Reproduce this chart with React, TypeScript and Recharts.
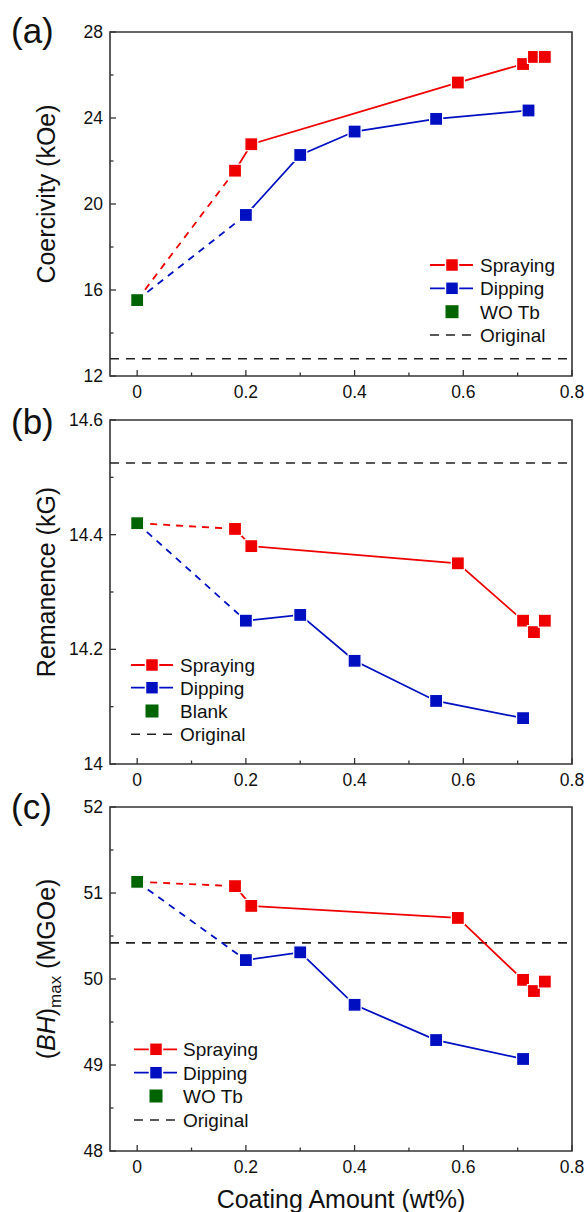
import React from 'react';
import { ComposedChart, Line, XAxis, YAxis, ReferenceLine, ReferenceArea } from 'recharts';

const FONT = '"Liberation Sans", Arial, Helvetica, sans-serif';
const RED = '#ee0000';
const BLUE = '#0010c0';
const GREEN = '#006400';
const AXIS = '#333333';
const TEXT = '#111111';

// x axis
const xDomain: [number, number] = [-0.05, 0.8];
const xMajorTicks = [0, 0.2, 0.4, 0.6, 0.8];
const xMinorTicks = [0.1, 0.3, 0.5, 0.7];
const xTickLabels = ['0', '0.2', '0.4', '0.6', '0.8'];

// shared x positions
const sprayX = [0.18, 0.21, 0.59, 0.71, 0.73, 0.75];
const dipXA = [0.2, 0.3, 0.4, 0.55, 0.72];
const dipX = [0.2, 0.3, 0.4, 0.55, 0.71];
const blankX = 0;

// (a) coercivity
const coercSpray = [21.55, 22.78, 25.65, 26.51, 26.84, 26.84];
const coercDip = [19.49, 22.28, 23.37, 23.96, 24.35];
const coercBlank = 15.53;
const coercOriginal = 12.8;
const coercMajor = [12, 16, 20, 24, 28];
const coercMinor = [14, 18, 22, 26];
const coercLabels = ['12', '16', '20', '24', '28'];

// (b) remanence
const remSpray = [14.41, 14.38, 14.35, 14.25, 14.23, 14.25];
const remDip = [14.25, 14.26, 14.18, 14.11, 14.08];
const remBlank = 14.42;
const remOriginal = 14.525;
const remMajor = [14, 14.2, 14.4, 14.6];
const remMinor = [14.1, 14.3, 14.5];
const remLabels = ['14', '14.2', '14.4', '14.6'];

// (c) (BH)max
const bhSpray = [51.08, 50.85, 50.71, 49.99, 49.86, 49.97];
const bhDip = [50.22, 50.31, 49.7, 49.29, 49.07];
const bhBlank = 51.13;
const bhOriginal = 50.42;
const bhMajor = [48, 49, 50, 51, 52];
const bhMinor = [48.5, 49.5, 50.5, 51.5];
const bhLabels = ['48', '49', '50', '51', '52'];

const legendNames = ['Spraying', 'Dipping'];

const SQ = 13;
const LW = 1.8;

const near = (a: number, b: number) => Math.abs(a - b) < 1e-6;

const makeXTick = (majors: number[], labels: string[]) => (props: any) => {
  const { x, y, payload } = props;
  const idx = majors.findIndex((m) => near(m, payload.value));
  const major = idx >= 0;
  return (
    <g>
      <line x1={x} x2={x} y1={y} y2={y - (major ? 6 : 3.5)} stroke={AXIS} strokeWidth={1.3} />
      {major && (
        <text x={x} y={y + 22} textAnchor="middle" fontSize={17.5} fontFamily={FONT} fill={TEXT}>
          {labels[idx]}
        </text>
      )}
    </g>
  );
};

const makeYTick = (majors: number[], labels: string[]) => (props: any) => {
  const { x, y, payload } = props;
  const idx = majors.findIndex((m) => near(m, payload.value));
  const major = idx >= 0;
  return (
    <g>
      <line x1={x} x2={x + (major ? 6 : 3.5)} y1={y} y2={y} stroke={AXIS} strokeWidth={1.3} />
      {major && (
        <text x={x - 7} y={y + 6} textAnchor="end" fontSize={17.5} fontFamily={FONT} fill={TEXT}>
          {labels[idx]}
        </text>
      )}
    </g>
  );
};

const square = (color: string) => (props: any) => {
  const { cx, cy, index } = props;
  if (cx == null || cy == null) return <g key={`e-${index}`} />;
  return (
    <rect
      key={`sq-${index}`}
      x={cx - SQ / 2}
      y={cy - SQ / 2}
      width={SQ}
      height={SQ}
      fill={color}
      stroke="#ffffff"
      strokeWidth={1.2}
    />
  );
};

type PanelProps = {
  top: number;
  height: number;
  xAxisHeight: number;
  yDomain: [number, number];
  yMajor: number[];
  yMinor: number[];
  yLabels: string[];
  sX: number[];
  sY: number[];
  dX: number[];
  dY: number[];
  blank: number;
  original: number;
  letter: string;
  letterY: number;
  title: React.ReactNode;
  blankName: string;
  legend: { lineX1: number; lineX2: number; sqX: number; textX: number; rows: number[] };
  xTitle?: boolean;
};

function Panel(p: PanelProps) {
  const sprayData = p.sX.map((x, i) => ({ x, y: p.sY[i] }));
  const dipData = p.dX.map((x, i) => ({ x, y: p.dY[i] }));
  const blankData = [{ x: blankX, y: p.blank }];
  const sprayDash = [{ x: blankX, y: p.blank }, sprayData[0]];
  const dipDash = [{ x: blankX, y: p.blank }, dipData[0]];
  const xTicks = [...xMajorTicks, ...xMinorTicks].sort((a, b) => a - b);
  const yTicks = [...p.yMajor, ...p.yMinor].sort((a, b) => a - b);
  const L = p.legend;
  const colors = [RED, BLUE];
  return (
    <div style={{ position: 'absolute', left: 0, top: p.top, width: 587, height: p.height }}>
      <ComposedChart width={587} height={p.height} margin={{ top: 32, right: 15, bottom: 0, left: 0 }}>
        <XAxis
          type="number"
          dataKey="x"
          domain={xDomain}
          ticks={xTicks}
          interval={0}
          tick={makeXTick(xMajorTicks, xTickLabels)}
          tickLine={false}
          axisLine={false}
          tickSize={0}
          tickMargin={0}
          height={p.xAxisHeight}
          allowDataOverflow
        />
        <YAxis
          type="number"
          domain={p.yDomain}
          ticks={yTicks}
          interval={0}
          tick={makeYTick(p.yMajor, p.yLabels)}
          tickLine={false}
          axisLine={false}
          tickSize={0}
          tickMargin={0}
          width={110}
          allowDataOverflow
        />
        <ReferenceLine y={p.original} stroke="#222222" strokeDasharray="9 7" strokeWidth={1.6} />
        <Line data={sprayDash} dataKey="y" stroke={RED} strokeWidth={LW} strokeDasharray="7 6" dot={false} isAnimationActive={false} />
        <Line data={dipDash} dataKey="y" stroke={BLUE} strokeWidth={LW} strokeDasharray="7 6" dot={false} isAnimationActive={false} />
        <Line data={sprayData} dataKey="y" stroke={RED} strokeWidth={LW} dot={square(RED)} isAnimationActive={false} />
        <Line data={dipData} dataKey="y" stroke={BLUE} strokeWidth={LW} dot={square(BLUE)} isAnimationActive={false} />
        <Line data={blankData} dataKey="y" stroke="none" dot={square(GREEN)} isAnimationActive={false} />
        <ReferenceArea x1={xDomain[0]} x2={xDomain[1]} y1={p.yDomain[0]} y2={p.yDomain[1]} fill="none" stroke={AXIS} strokeWidth={1.6} />
      </ComposedChart>
      <svg
        width={587}
        height={p.height}
        style={{ position: 'absolute', left: 0, top: 0, pointerEvents: 'none', overflow: 'visible' }}
      >
        <text x={11} y={p.letterY} fontSize={35} fontFamily={FONT} fill={TEXT}>
          {p.letter}
        </text>
        <text
          x={55}
          y={194}
          transform={`rotate(-90, 55, 194)`}
          textAnchor="middle"
          fontSize={25}
          fontFamily={FONT}
          fill={TEXT}
        >
          {p.title}
        </text>
        {legendNames.map((name, i) => (
          <g key={name}>
            <line x1={L.lineX1} x2={L.lineX2} y1={L.rows[i]} y2={L.rows[i]} stroke={colors[i]} strokeWidth={LW} />
            <rect x={L.sqX - SQ / 2} y={L.rows[i] - SQ / 2} width={SQ} height={SQ} fill={colors[i]} stroke="#ffffff" strokeWidth={1.5} />
            <text x={L.textX} y={L.rows[i] + 7} fontSize={19} fontFamily={FONT} fill={TEXT}>
              {name}
            </text>
          </g>
        ))}
        <rect x={L.sqX - SQ / 2} y={L.rows[2] - SQ / 2} width={SQ} height={SQ} fill={GREEN} />
        <text x={L.textX} y={L.rows[2] + 7} fontSize={19} fontFamily={FONT} fill={TEXT}>
          {p.blankName}
        </text>
        <line x1={L.lineX1} x2={L.lineX2} y1={L.rows[3]} y2={L.rows[3]} stroke="#222222" strokeWidth={1.6} strokeDasharray="9 7" />
        <text x={L.textX} y={L.rows[3] + 7} fontSize={19} fontFamily={FONT} fill={TEXT}>
          Original
        </text>
        {p.xTitle && (
          <text x={341} y={433} textAnchor="middle" fontSize={25} fontFamily={FONT} fill={TEXT}>
            Coating Amount (wt%)
          </text>
        )}
      </svg>
    </div>
  );
}

export default function App() {
  return (
    <div style={{ position: 'absolute', left: 0, top: 0, width: 587, height: 1212, background: '#ffffff' }}>
      <Panel
        top={0}
        height={420}
        xAxisHeight={44}
        yDomain={[12, 28]}
        yMajor={coercMajor}
        yMinor={coercMinor}
        yLabels={coercLabels}
        sX={sprayX}
        sY={coercSpray}
        dX={dipXA}
        dY={coercDip}
        blank={coercBlank}
        original={coercOriginal}
        letter="(a)"
        letterY={43}
        title="Coercivity (kOe)"
        blankName="WO Tb"
        legend={{ lineX1: 430, lineX2: 473, sqX: 452, textX: 480, rows: [265, 288.3, 311.7, 335] }}
      />
      <Panel
        top={388}
        height={420}
        xAxisHeight={44}
        yDomain={[14, 14.6]}
        yMajor={remMajor}
        yMinor={remMinor}
        yLabels={remLabels}
        sX={sprayX}
        sY={remSpray}
        dX={dipX}
        dY={remDip}
        blank={remBlank}
        original={remOriginal}
        letter="(b)"
        letterY={46}
        title="Remanence (kG)"
        blankName="Blank"
        legend={{ lineX1: 131, lineX2: 173, sqX: 152, textX: 180, rows: [277, 299.7, 323, 346.3] }}
      />
      <Panel
        top={775}
        height={437}
        xAxisHeight={61}
        yDomain={[48, 52]}
        yMajor={bhMajor}
        yMinor={bhMinor}
        yLabels={bhLabels}
        sX={sprayX}
        sY={bhSpray}
        dX={dipX}
        dY={bhDip}
        blank={bhBlank}
        original={bhOriginal}
        letter="(c)"
        letterY={44}
        title={
          <>
            <tspan>(</tspan>
            <tspan fontStyle="italic">BH</tspan>
            <tspan>)</tspan>
            <tspan fontSize={17} dy={6}>max</tspan>
            <tspan dy={-6}> (MGOe)</tspan>
          </>
        }
        blankName="WO Tb"
        legend={{ lineX1: 134, lineX2: 177, sqX: 156, textX: 183, rows: [274.3, 297.7, 321, 345] }}
        xTitle
      />
    </div>
  );
}
